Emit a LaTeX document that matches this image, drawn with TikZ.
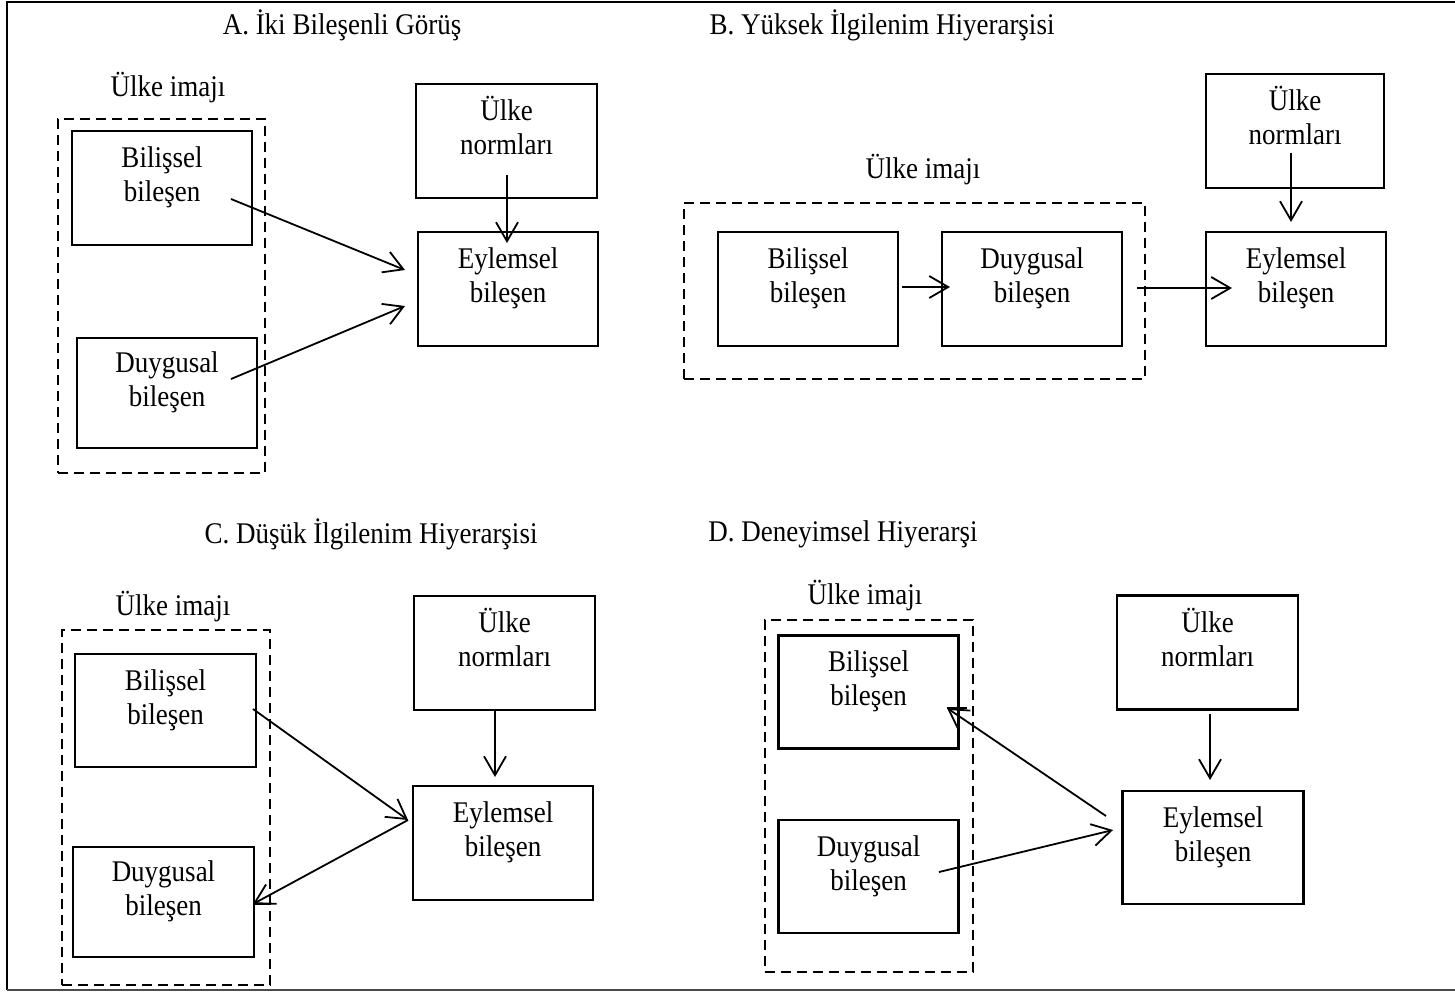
\documentclass[tikz,border=0pt]{standalone}
\usepackage{fontspec}
\setmainfont{Liberation Serif}[FakeStretch=0.9]
\usetikzlibrary{arrows.meta}

% two centred lines, with struts so every box sets its text at the same height
\newcommand\twolines[2]{\rule{0pt}{13.5pt}#1\\#2\rule[-17pt]{0pt}{17pt}}

\tikzset{
  txt/.style={align=center, inner sep=0pt, font=\fontsize{15}{17}\selectfont},
  box/.style={txt, draw, line width=1.1pt},
  imgbox/.style={draw, line width=1.3pt, dash pattern=on 5pt off 3pt, inner sep=0pt},
  link/.style={line width=0.9pt, -{Straight Barb[length=9.5pt,width=11pt]}},
  tick/.style={line width=0.9pt},
}

\begin{document}
\begin{tikzpicture}[x=0.5pt,y=-0.5pt]
\useasboundingbox (0,0) rectangle (1455,992);

% frame
\draw[line width=1.4pt] (1456,2) -- (7,2) -- (7,990);
\draw[line width=1pt, black!70] (7,990) -- (1456,990);

% ---------------- A ----------------
\node[txt] (tA) at (342,25) {A. İki Bileşenli Görüş};
\node[txt] (aImgL) at (168,88) {Ülke imajı};
\node[imgbox, minimum width=103.5pt, minimum height=177pt] (aImg) at (161.5,296) {};
\node[box, minimum width=90pt, minimum height=57pt] (aBil) at (162,188) {\twolines{Bilişsel}{bileşen}};
\node[box, minimum width=90pt, minimum height=55pt] (aDuy) at (167,393) {\twolines{Duygusal}{bileşen}};
\node[box, minimum width=90.5pt, minimum height=57pt] (aNorm) at (506.5,141) {\twolines{Ülke}{normları}};
\node[box, minimum width=90pt, minimum height=57pt] (aEyl) at (508,289) {\twolines{Eylemsel}{bileşen}};
\coordinate (a1s) at (231,199);
\coordinate (a1e) at (405,270);
\coordinate (a2s) at (231,379);
\coordinate (a2e) at (405,306);
\coordinate (a3s) at (507,175);
\coordinate (a3e) at (507,243);
\draw[link] (a1s) -- (a1e);
\draw[link] (a2s) -- (a2e);
\draw[link] (a3s) -- (a3e);

% ---------------- B ----------------
\node[txt] (tB) at (882,25) {B. Yüksek İlgilenim Hiyerarşisi};
\node[txt] (bImgL) at (923,170) {Ülke imajı};
\node[imgbox, minimum width=230.5pt, minimum height=88pt] (bImg) at (914.5,291) {};
\node[box, minimum width=90pt, minimum height=57pt] (bBil) at (808,289) {\twolines{Bilişsel}{bileşen}};
\node[box, minimum width=90pt, minimum height=57pt] (bDuy) at (1032,289) {\twolines{Duygusal}{bileşen}};
\node[box, minimum width=89pt, minimum height=57pt] (bNorm) at (1295,131) {\twolines{Ülke}{normları}};
\node[box, minimum width=90pt, minimum height=57pt] (bEyl) at (1296,289) {\twolines{Eylemsel}{bileşen}};
\coordinate (b1s) at (902,287);
\coordinate (b1e) at (950,287);
\coordinate (b2s) at (1137,288);
\coordinate (b2e) at (1232,288);
\coordinate (b3s) at (1291,153);
\coordinate (b3e) at (1291,222);
\draw[link] (b1s) -- (b1e);
\draw[link] (b2s) -- (b2e);
\draw[link] (b3s) -- (b3e);

% ---------------- C ----------------
\node[txt] (tC) at (371,534) {C. Düşük İlgilenim Hiyerarşisi};
\node[txt] (cImgL) at (173,607) {Ülke imajı};
\node[imgbox, minimum width=104pt, minimum height=177.5pt] (cImg) at (166,807.5) {};
\node[box, minimum width=90.5pt, minimum height=56.5pt] (cBil) at (165.5,710.5) {\twolines{Bilişsel}{bileşen}};
\node[box, minimum width=90.5pt, minimum height=55pt] (cDuy) at (163.5,902) {\twolines{Duygusal}{bileşen}};
\node[box, minimum width=90.5pt, minimum height=57pt] (cNorm) at (504.5,653) {\twolines{Ülke}{normları}};
\node[box, minimum width=90pt, minimum height=57pt] (cEyl) at (503,843) {\twolines{Eylemsel}{bileşen}};
\coordinate (c1s) at (253,709);
\coordinate (c1e) at (408,820);
\coordinate (c2e) at (253,904);
\coordinate (c2k) at (270,904);
\coordinate (c3s) at (495,711);
\coordinate (c3e) at (495,777);
\draw[link] (c1s) -- (c1e);
\draw[link] (c1e) -- (c2e);
\draw[tick] (c2e) -- (c2k);
\draw[link] (c3s) -- (c3e);

% ---------------- D ----------------
\node[txt] (tD) at (843,534) {D. Deneyimsel Hiyerarşi};
\node[txt] (dImgL) at (865,596) {Ülke imajı};
\node[imgbox, minimum width=104pt, minimum height=176pt] (dImg) at (869,796) {};
\node[box, minimum width=90pt, minimum height=56.5pt] (dBil) at (868.5,692) {\twolines{Bilişsel}{bileşen}};
\node[box, minimum width=90pt, minimum height=56.5pt] (dDuy) at (868.5,876.5) {\twolines{Duygusal}{bileşen}};
\node[box, minimum width=90.5pt, minimum height=57pt] (dNorm) at (1207.5,652.5) {\twolines{Ülke}{normları}};
\node[box, minimum width=90.5pt, minimum height=56.5pt] (dEyl) at (1213,847.5) {\twolines{Eylemsel}{bileşen}};
\coordinate (d1s) at (1106,816);
\coordinate (d1e) at (947,708);
\coordinate (d1k) at (967,708);
\coordinate (d2s) at (939,872);
\coordinate (d2e) at (1113,830);
\coordinate (d3s) at (1210,714);
\coordinate (d3e) at (1210,780);
\draw[link] (d1s) -- (d1e);
\draw[tick] (d1e) -- (d1k);
\draw[link] (d2s) -- (d2e);
\draw[link] (d3s) -- (d3e);
\end{tikzpicture}
\end{document}
